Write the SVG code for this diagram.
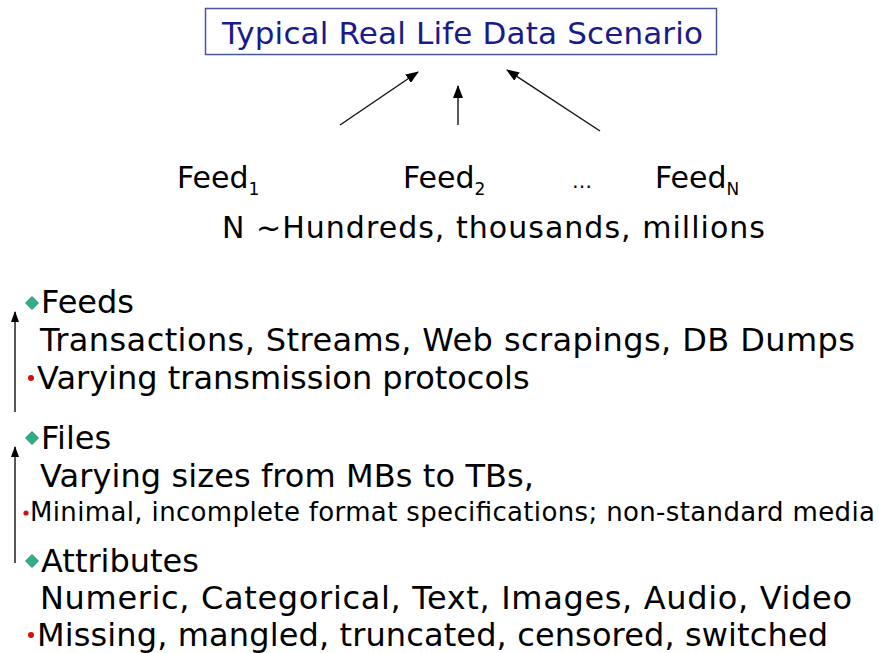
<svg xmlns="http://www.w3.org/2000/svg" width="879" height="653" viewBox="0 0 879 653">
  <style>
    text { font-family: "DejaVu Sans", Verdana, "Liberation Sans", sans-serif; fill: #000; }
    .title { font-size: 31px; fill: #1a1a8a; }
    .feed { font-size: 30px; }
    .sub { font-size: 17px; }
    .dots { font-size: 20px; }
    .body { font-size: 32px; }
    .small { font-size: 26px; }
    .conn { stroke: #111; stroke-width: 1.4; fill: none; marker-end: url(#head); }
    .conn-side { stroke: #111; stroke-width: 1.4; fill: none; marker-end: url(#head-small); }
    .diamond { fill: #2fae8c; stroke: #1d7d63; stroke-width: 0.8; }
    .dot { fill: #d01010; }
  </style>
  <defs>
    <marker id="head" viewBox="0 0 13 10" refX="12" refY="5" markerWidth="13" markerHeight="10" markerUnits="userSpaceOnUse" orient="auto">
      <path d="M0,0 L13,5 L0,10 Z" fill="#000"/>
    </marker>
    <marker id="head-small" viewBox="0 0 11 8" refX="10" refY="4" markerWidth="11" markerHeight="8" markerUnits="userSpaceOnUse" orient="auto">
      <path d="M0,0 L11,4 L0,8 Z" fill="#000"/>
    </marker>
    <polygon id="dia" points="0,-6.5 6.5,0 0,6.5 -6.5,0" class="diamond"/>
  </defs>
  <rect width="879" height="653" fill="#fff"/>

  <!-- title node -->
  <g id="title">
    <rect x="205.5" y="8.5" width="511" height="46" fill="#fff" stroke="#4a569a" stroke-width="1.5"/>
    <text class="title" x="222" y="44" textLength="481" lengthAdjust="spacing">Typical Real Life Data Scenario</text>
  </g>

  <!-- feed nodes -->
  <g id="feed1"><text class="feed" x="177" y="188">Feed<tspan class="sub" dy="7">1</tspan></text></g>
  <g id="feed2"><text class="feed" x="403" y="188">Feed<tspan class="sub" dy="7">2</tspan></text></g>
  <g id="feed-ellipsis"><text class="dots" x="572" y="188">…</text></g>
  <g id="feedN"><text class="feed" x="655" y="188">Feed<tspan class="sub" dy="7">N</tspan></text></g>
  <g id="feed-count"><text class="feed" x="222" y="238" textLength="543" lengthAdjust="spacing">N ~Hundreds, thousands, millions</text></g>

  <!-- connectors -->
  <g id="connectors">
    <line class="conn" x1="340" y1="125" x2="418" y2="72"/>
    <line class="conn" x1="458" y1="125" x2="458" y2="86"/>
    <line class="conn" x1="600" y1="131" x2="507" y2="70"/>
    <line class="conn-side" x1="15" y1="412" x2="15" y2="312"/>
    <line class="conn-side" x1="15" y1="563" x2="15" y2="447"/>
  </g>

  <!-- feeds level -->
  <g id="feeds">
    <use href="#dia" x="32" y="303"/>
    <text class="body" x="41" y="313">Feeds</text>
    <text class="body" x="40" y="351" textLength="815" lengthAdjust="spacing">Transactions, Streams, Web scrapings, DB Dumps</text>
    <circle class="dot" cx="31" cy="378" r="3"/>
    <text class="body" x="37" y="389">Varying transmission protocols</text>
  </g>

  <!-- files level -->
  <g id="files">
    <use href="#dia" x="32" y="438"/>
    <text class="body" x="41" y="449">Files</text>
    <text class="body" x="40" y="487" textLength="494" lengthAdjust="spacing">Varying sizes from MBs to TBs,</text>
    <circle class="dot" cx="26" cy="513" r="2.6"/>
    <text class="small" x="30" y="521" textLength="845" lengthAdjust="spacing">Minimal, incomplete format specifications; non-standard media</text>
  </g>

  <!-- attributes level -->
  <g id="attributes">
    <use href="#dia" x="32" y="561"/>
    <text class="body" x="41" y="572">Attributes</text>
    <text class="body" x="40" y="609" textLength="812" lengthAdjust="spacing">Numeric, Categorical, Text, Images, Audio, Video</text>
    <circle class="dot" cx="31" cy="635" r="3"/>
    <text class="body" x="37" y="646" textLength="791" lengthAdjust="spacing">Missing, mangled, truncated, censored, switched</text>
  </g>
</svg>
